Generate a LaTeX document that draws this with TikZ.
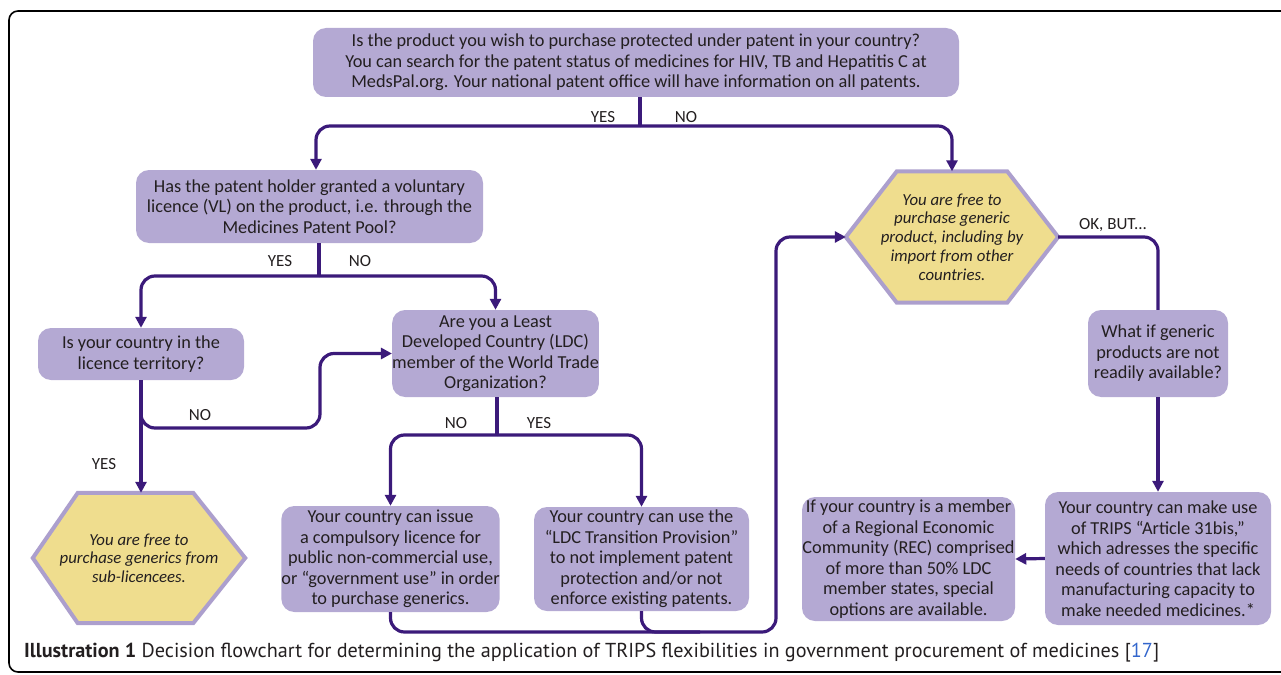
\documentclass[tikz,border=0pt]{standalone}
\usepackage{fontspec}
\setmainfont{Carlito}
\newfontfamily\capfont{PT Sans}
\usetikzlibrary{arrows.meta,backgrounds}
\definecolor{boxfill}{HTML}{B4A9D3}
\definecolor{hexfill}{HTML}{EFDD8E}
\definecolor{hexline}{HTML}{AC9FCD}
\definecolor{conncol}{HTML}{3B1A7A}
\definecolor{txt}{HTML}{231F20}
\definecolor{capblue}{HTML}{3366CC}
\tikzset{
  box/.style={rounded corners=13pt, fill=boxfill, align=center, inner sep=0pt, text=txt,
    font=\fontsize{18.3}{20.5}\selectfont},
  hexnode/.style={align=center, inner sep=0pt, text=txt, minimum width=212pt, minimum height=130pt,
    font=\fontsize{16.8}{18.7}\selectfont\itshape},
  hexshape/.style={fill=hexfill, draw=hexline, line width=4pt, line join=miter},
  conn/.style={draw=conncol, line width=3.2pt, rounded corners=14pt},
  arr/.style={conn, -{Triangle[length=11pt,width=11pt]}},
  lbl/.style={text=txt, font=\fontsize{17}{18}\selectfont, inner sep=0pt},
}
\begin{document}
\begin{tikzpicture}[x=1pt,y=-1pt]
\useasboundingbox (0,0) rectangle (1281,674);
\begin{scope}
  \clip (0,0) rectangle (1281,674);
  \draw[line width=1.6pt, rounded corners=9pt] (9,11) rectangle (1300,672);
\end{scope}

% boxes
\node[box, minimum width=646pt, minimum height=69pt] (top) at (636,62.5)
  {Is the product you wish to purchase protected under patent in your country?\\
   You can search for the patent status of medicines for HIV, TB and Hepatitis C at\\
   MedsPal.org. Your national patent office will have information on all patents.};
\node[box, minimum width=347pt, minimum height=73pt] (vl) at (309.5,206.5)
  {Has the patent holder granted a voluntary\\licence (VL) on the product, i.e. through the\\Medicines Patent Pool?};
\node[box, minimum width=206pt, minimum height=52pt] (lic) at (141,354)
  {Is your country in the\\licence territory?};
\node[box, minimum width=205pt, minimum height=87pt] (ldc) at (495.5,353.5)
  {Are you a Least\\Developed Country (LDC)\\member of the World Trade\\Organization?};
\node[box, minimum width=215pt, minimum height=106pt] (cl) at (390.5,559)
  {Your country can issue\\a compulsory licence for\\public non-commercial use,\\or “government use” in order\\to purchase generics.};
\node[box, minimum width=215pt, minimum height=104pt] (ldct) at (641.5,559)
  {Your country can use the\\“LDC Transition Provision”\\to not implement patent\\protection and/or not\\enforce existing patents.};
\node[box, minimum width=140pt, minimum height=87pt] (what) at (1158,353.5)
  {What if generic\\products are not\\readily available?};
\node[box, minimum width=226pt, minimum height=133pt] (trips) at (1158,558.5)
  {Your country can make use\\of TRIPS “Article 31bis,”\\which adresses the specific\\needs of countries that lack\\manufacturing capacity to\\make needed medicines.*};
\node[box, minimum width=213pt, minimum height=124pt] (rec) at (908.5,559)
  {If your country is a member\\of a Regional Economic\\Community (REC) comprised\\of more than 50\% LDC\\member states, special\\options are available.};

% hexagons
\node[hexnode] (hexL) at (139,558) {You are free to\\purchase generics from\\sub-licencees.};
\node[hexnode, minimum height=131pt] (hexR) at (952,237) {You are free to\\purchase generic\\product, including by\\import from other\\countries.};
\begin{scope}[on background layer]
  \draw[hexshape] (hexL.west) -- ([xshift=45pt]hexL.north west) -- ([xshift=-52pt]hexL.north east)
    -- (hexL.east) -- ([xshift=-52pt]hexL.south east) -- ([xshift=45pt]hexL.south west) -- cycle;
  \draw[hexshape] (hexR.west) -- ([xshift=51pt]hexR.north west) -- ([xshift=-51pt]hexR.north east)
    -- (hexR.east) -- ([xshift=-51pt]hexR.south east) -- ([xshift=51pt]hexR.south west) -- cycle;
\end{scope}

% junctions
\coordinate (j1) at (640,126);
\coordinate (j2) at (319,276);
\coordinate (j3) at (497,435);
\coordinate (c1) at (320,428);
\coordinate (j4) at (776,632);
\coordinate (m1) at (700,632);

% connectors
\draw[conn, rounded corners=0pt] (j1 |- top.south) -- (j1);
\draw[arr] (j1) -| ([xshift=6.5pt]vl.north);
\draw[arr] (j1) -| (hexR.north);
\draw[conn, rounded corners=0pt] (j2 |- vl.south) -- (j2);
\draw[arr] (j2) -| (lic.north);
\draw[arr] (j2) -| (ldc.north);
\draw[arr, rounded corners=0pt] (lic.south) -- (hexL.north -| lic.south);
\draw[arr] (lic.south) |- (c1) |- (ldc.west);
\draw[conn, rounded corners=0pt] (j3 |- ldc.south) -- (j3);
\draw[arr] (j3) -| (cl.north);
\draw[arr] (j3) -| (ldct.north);
\draw[conn] (ldct.south) |- (m1);
\draw[arr] (cl.south) |- (j4) |- (hexR.west);
\draw[conn] (hexR.east) -| (what.north);
\draw[arr] (what.south) -- (trips.north);
\draw[arr] (trips.west) -- (rec.east);

% labels
\node[lbl] (l1) at (603,117) {YES};
\node[lbl] (l2) at (686,117) {NO};
\node[lbl] (l3) at (280,261) {YES};
\node[lbl] (l4) at (360,261) {NO};
\node[lbl] (l5) at (200,415) {NO};
\node[lbl] (l6) at (104,464) {YES};
\node[lbl] (l7) at (456,423) {NO};
\node[lbl] (l8) at (539,423) {YES};
\node[lbl] (l9) at (1113,225) {OK, BUT...};

% caption
\node[anchor=west, inner sep=0pt, text=txt, font=\capfont\fontsize{20.2}{22}\selectfont] (cap) at (24,653)
  {\textbf{Illustration 1} Decision flowchart for determining the application of TRIPS flexibilities in government procurement of medicines [\textcolor{capblue}{17}]};
\end{tikzpicture}
\end{document}
